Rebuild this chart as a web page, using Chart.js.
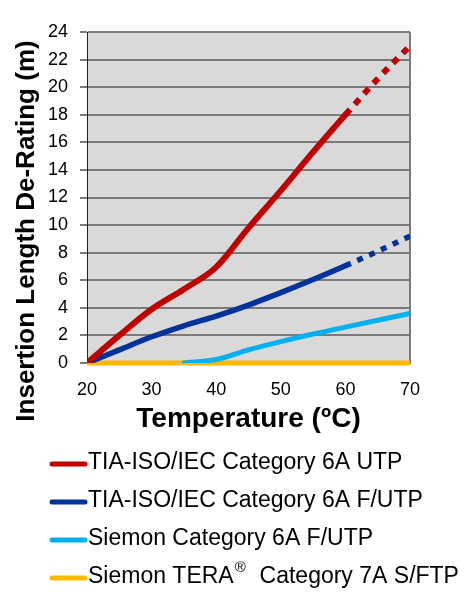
<!DOCTYPE html>
<html>
<head>
<meta charset="utf-8">
<script src="https://cdn.jsdelivr.net/npm/chart.js@4"></script>
<style>
  body { margin: 0; background: #fff; }
</style>
</head>
<body>
<canvas id="myChart" width="470" height="608"></canvas>
<script>
const temps = [20, 25, 30, 35, 40, 45, 50, 55, 60, 65, 70];
const utp6a = [0, 2.0, 3.9, 5.35, 6.95, 9.8, 12.5, 15.3, 18.0, 20.6, 23.0];
const futp6a = [0, 0.95, 1.9, 2.7, 3.4, 4.2, 5.1, 6.05, 7.05, 8.1, 9.2];
const siemon6a = [null, null, null, 0, 0.25, 0.95, 1.55, 2.1, 2.6, 3.1, 3.6];
const tera7a = [0, 0, 0, 0, 0, 0, 0, 0, 0, 0, 0];
const seriesNames = [
  'TIA-ISO/IEC Category 6A UTP',
  'TIA-ISO/IEC Category 6A F/UTP',
  'Siemon Category 6A F/UTP',
  'Siemon TERA®  Category 7A S/FTP'
];
const yTicks = [0, 2, 4, 6, 8, 10, 12, 14, 16, 18, 20, 22, 24];
const xTicks = [20, 30, 40, 50, 60, 70];
const xTitle = 'Temperature (ºC)';
const yTitle = 'Insertion Length De-Rating (m)';

const font = "'Liberation Sans', Arial, sans-serif";

// dotted part after 60 C is the extrapolation
const dashAfter60 = (dash) => ({
  borderDash: ctx => ctx.p0.parsed.x >= 60 ? dash : undefined,
  borderCapStyle: ctx => ctx.p0.parsed.x >= 60 ? 'butt' : 'round'
});

const plotBg = {
  id: 'plotBg',
  beforeDraw(chart) {
    const a = chart.chartArea;
    const c = chart.ctx;
    c.save();
    c.fillStyle = '#d9d9d9';
    c.fillRect(a.left, a.top, a.right - a.left, a.bottom - a.top);
    c.restore();
  }
};

// y title sits lower than the plot centre in the original
const sideTitle = {
  id: 'sideTitle',
  afterDraw(chart) {
    const c = chart.ctx;
    c.save();
    c.translate(27, 231);
    c.rotate(-Math.PI / 2);
    c.fillStyle = '#000';
    c.font = 'bold 26px ' + font;
    c.textAlign = 'center';
    c.textBaseline = 'middle';
    c.fillText(yTitle, 0, 0);
    c.restore();
  }
};

const sideLegend = {
  id: 'sideLegend',
  afterDraw(chart) {
    const c = chart.ctx;
    c.save();
    chart.data.datasets.forEach((ds, i) => {
      const y = 463 + i * 38;
      c.strokeStyle = ds.borderColor;
      c.lineWidth = 5;
      c.lineCap = 'round';
      c.beginPath();
      c.moveTo(52, y + 1);
      c.lineTo(85, y + 1);
      c.stroke();
      c.fillStyle = '#000';
      c.textBaseline = 'middle';
      c.font = '23px ' + font;
      const parts = ds.label.split('®');
      let x = 88;
      c.fillText(parts[0], x, y);
      if (parts.length > 1) {
        x += c.measureText(parts[0]).width;
        c.font = '15px ' + font;
        c.fillText('®', x + 1, y - 9);
        x += c.measureText('®').width + 2;
        c.font = '23px ' + font;
        c.fillText(parts[1], x, y);
      }
    });
    c.restore();
  }
};

new Chart(document.getElementById('myChart'), {
  type: 'line',
  data: {
    labels: temps,
    datasets: [{
      label: seriesNames[0],
      data: utp6a,
      borderColor: '#c00000',
      borderWidth: 6,
      segment: dashAfter60([7, 7])
    }, {
      label: seriesNames[1],
      data: futp6a,
      borderColor: '#003399',
      borderWidth: 5.5,
      segment: dashAfter60([6, 7])
    }, {
      label: seriesNames[2],
      data: siemon6a,
      borderColor: '#00b0f0',
      borderWidth: 5,
      borderCapStyle: 'round'
    }, {
      label: seriesNames[3],
      data: tera7a,
      borderColor: '#ffb800',
      borderWidth: 5,
      clip: 6
    }]
  },
  options: {
    responsive: false,
    animation: false,
    elements: {
      point: { radius: 0 },
      line: { cubicInterpolationMode: 'monotone', borderJoinStyle: 'round' }
    },
    layout: {
      padding: { left: 0, top: 32, right: 60, bottom: 165 }
    },
    plugins: {
      legend: { display: false },
      tooltip: { enabled: false }
    },
    scales: {
      x: {
        type: 'linear',
        min: 20,
        max: 70,
        afterFit(scale) { scale.height = 80; },
        afterBuildTicks(scale) { scale.ticks = xTicks.map(v => ({ value: v })); },
        grid: {
          drawTicks: false,
          lineWidth: 2,
          color: ctx => ctx.tick && ctx.tick.value === 70 ? '#7a7a7a' : 'transparent'
        },
        border: { display: true, color: '#7a7a7a', width: 2 },
        ticks: {
          padding: 16,
          color: '#000',
          font: { family: font, size: 18 },
          maxRotation: 0
        },
        title: {
          display: true,
          text: xTitle,
          color: '#000',
          font: { family: font, size: 28, weight: 'bold' },
          padding: { top: 0, bottom: 7 }
        }
      },
      y: {
        min: 0,
        max: 24,
        afterFit(scale) { scale.width = 87; },
        afterBuildTicks(scale) { scale.ticks = yTicks.map(v => ({ value: v })); },
        grid: {
          color: '#7a7a7a',
          lineWidth: 2,
          tickLength: 7
        },
        border: { display: true, color: '#222', width: 1 },
        ticks: {
          padding: 12,
          color: '#000',
          font: { family: font, size: 18 }
        },
        title: { display: false }
      }
    }
  },
  plugins: [plotBg, sideTitle, sideLegend]
});
</script>
</body>
</html>
